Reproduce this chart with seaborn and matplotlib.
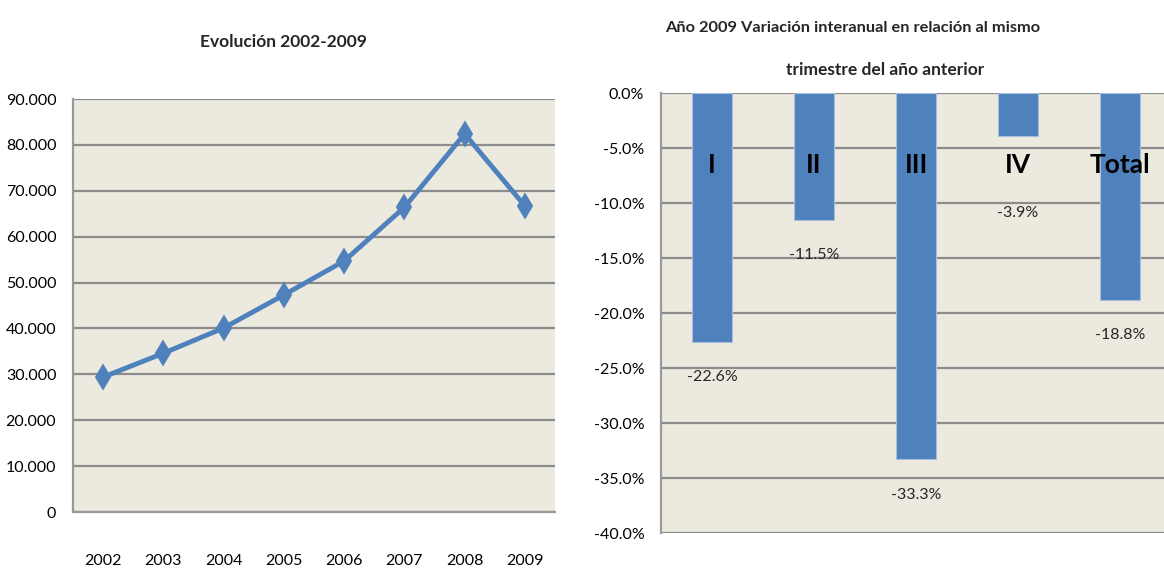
import matplotlib
matplotlib.use("Agg")
import matplotlib.pyplot as plt
import seaborn as sns
import pandas as pd
from matplotlib.ticker import FuncFormatter

# data
years = ["2002", "2003", "2004", "2005", "2006", "2007", "2008", "2009"]
evolucion = [29400, 34600, 40100, 47300, 54700, 66400, 82400, 66700]

trimestres = ["I", "II", "III", "IV", "Total"]
variacion = [-22.6, -11.5, -33.3, -3.9, -18.8]

sns.set_style("white")
plt.rcParams['font.family'] = ['Lato', 'DejaVu Sans']

blue = "#4F81BD"
bg = "#ECE9DF"
grid = "#8C8C8C"

fig = plt.figure(figsize=(11.64, 5.71), dpi=100)
ax1 = fig.add_axes([0.0627, 0.1033, 0.4141, 0.7233])
ax2 = fig.add_axes([0.5679, 0.0665, 0.4381, 0.7706])

# left: evolution line
df1 = pd.DataFrame({"year": years, "value": evolucion})
sns.pointplot(data=df1, x="year", y="value", ax=ax1, color=blue,
              markers="d", markersize=10, linewidth=3.5, errorbar=None)
ax1.set_ylim(0, 90000)
ax1.set_yticks(range(0, 90001, 10000))
ax1.yaxis.set_major_formatter(FuncFormatter(
    lambda v, p: "0" if v == 0 else f"{int(v):,}".replace(",", ".")))
ax1.set_xlim(-0.5, 7.5)
ax1.set_facecolor(bg)
ax1.yaxis.grid(True, color=grid, linewidth=1.6)
ax1.set_axisbelow(True)
for s in ["top", "right"]:
    ax1.spines[s].set_visible(False)
for s in ["left", "bottom"]:
    ax1.spines[s].set_color("#999999")
    ax1.spines[s].set_linewidth(1.6)
ax1.tick_params(axis="y", length=0, pad=12, labelsize=11.5, labelcolor="black")
ax1.tick_params(axis="x", length=0, pad=30, labelsize=11.5, labelcolor="black")
ax1.set_xlabel("")
ax1.set_ylabel("")

# right: quarterly variation bars
df2 = pd.DataFrame({"q": trimestres, "v": variacion})
sns.barplot(data=df2, x="q", y="v", ax=ax2, color=blue, width=0.4,
            saturation=1, edgecolor="#A7BFDE", linewidth=0.8)
ax2.set_ylim(-40, 0)
ax2.set_yticks(range(-40, 1, 5))
ax2.yaxis.set_major_formatter(FuncFormatter(lambda v, p: f"{v:.1f}%"))
ax2.set_xlim(-0.5, 4.5)
ax2.set_facecolor(bg)
ax2.yaxis.grid(True, color=grid, linewidth=1.6)
ax2.set_axisbelow(True)
ax2.set_xticks([])
for s in ["top", "right", "bottom"]:
    ax2.spines[s].set_visible(False)
ax2.spines["left"].set_color("#999999")
ax2.spines["left"].set_linewidth(1.6)
ax2.tick_params(axis="y", length=0, pad=12, labelsize=11.5, labelcolor="black")
ax2.set_xlabel("")
ax2.set_ylabel("")

for i, (q, v) in enumerate(zip(trimestres, variacion)):
    ax2.text(i, -6.5, q, ha="center", va="center", fontsize=19,
             fontweight="bold", color="black")
    ly = v - 3.2 if q != "IV" else -10.9
    ax2.text(i, ly, f"{v:.1f}%", ha="center", va="center", fontsize=11.5)

# titles
fig.text(283 / 1164, 1 - 42 / 571, "Evolución 2002-2009", ha="center",
         va="center", fontsize=12.5, fontweight="bold")
fig.text(853 / 1164, 1 - 28 / 571, "Año 2009 Variación interanual en relación al mismo",
         ha="center", va="center", fontsize=11.8, fontweight="bold")
fig.text(885 / 1164, 1 - 70 / 571, "trimestre del año anterior",
         ha="center", va="center", fontsize=12.5, fontweight="bold")

fig.savefig("out.png", dpi=100)
